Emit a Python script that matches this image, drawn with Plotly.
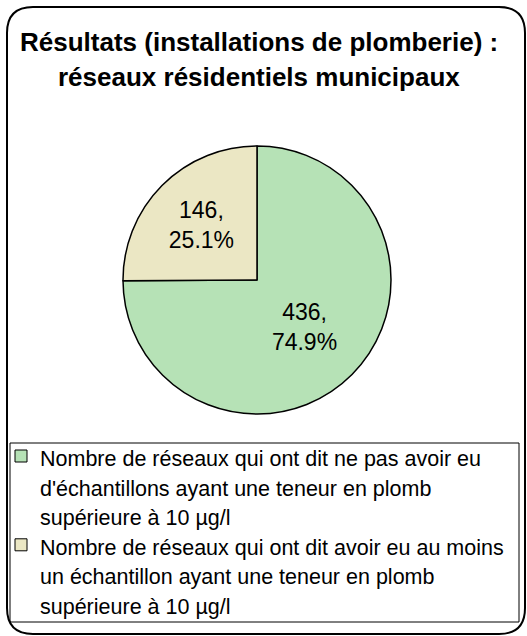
import plotly.graph_objects as go

W, H = 527, 636

categories = [
    "Nombre de réseaux qui ont dit ne pas avoir eu d'échantillons ayant une teneur en plomb supérieure à 10 µg/l",
    "Nombre de réseaux qui ont dit avoir eu au moins un échantillon ayant une teneur en plomb supérieure à 10 µg/l",
]
legend_lines = [
    ["Nombre de réseaux qui ont dit ne pas avoir eu",
     "d'échantillons ayant une teneur en plomb",
     "supérieure à 10 µg/l"],
    ["Nombre de réseaux qui ont dit avoir eu au moins",
     "un échantillon ayant une teneur en plomb",
     "supérieure à 10 µg/l"],
]
values = [436, 146]
colors = ["#b6e2b6", "#ebe7c4"]
title_lines = ["Résultats (installations de plomberie) :",
               "réseaux résidentiels municipaux"]

FONT = "Liberation Sans, Arial, sans-serif"


def px(x):
    return x / W


def py(y):
    return 1 - y / H


fig = go.Figure()
fig.add_trace(go.Pie(
    labels=categories,
    values=values,
    sort=False,
    direction="clockwise",
    rotation=0,
    marker=dict(colors=colors, line=dict(color="black", width=1.5)),
    texttemplate="%{value},<br>%{percent:.1%}",
    textposition="inside",
    insidetextorientation="horizontal",
    textfont=dict(family=FONT, size=23, color="black"),
    domain=dict(x=[px(123), px(391)], y=[py(414), py(146)]),
    showlegend=False,
    hoverinfo="label+value+percent",
))

shapes = []
# outer rounded border
x0, y0, x1, y1, r = 7, 7, 525, 634, 26
path = (f"M {px(x0+r)},{py(y0)} L {px(x1-r)},{py(y0)} "
        f"Q {px(x1)},{py(y0)} {px(x1)},{py(y0+r)} "
        f"L {px(x1)},{py(y1-r)} Q {px(x1)},{py(y1)} {px(x1-r)},{py(y1)} "
        f"L {px(x0+r)},{py(y1)} Q {px(x0)},{py(y1)} {px(x0)},{py(y1-r)} "
        f"L {px(x0)},{py(y0+r)} Q {px(x0)},{py(y0)} {px(x0+r)},{py(y0)} Z")
shapes.append(dict(type="path", xref="paper", yref="paper", path=path,
                   line=dict(color="black", width=2), fillcolor="rgba(0,0,0,0)"))
# legend box
shapes.append(dict(type="rect", xref="paper", yref="paper",
                   x0=px(10), x1=px(519), y0=py(622), y1=py(443),
                   line=dict(color="black", width=1), fillcolor="white", layer="below"))

annotations = []
for i, t in enumerate(title_lines):
    annotations.append(dict(text=f"<b>{t}</b>", x=px(259), y=py(42 + 35 * i),
                            xref="paper", yref="paper", showarrow=False,
                            xanchor="center", yanchor="middle",
                            font=dict(family=FONT, size=26, color="black")))

line_h = 29.6
start_y = 459
row = 0
for k, lines in enumerate(legend_lines):
    yc = start_y + row * line_h
    shapes.append(dict(type="rect", xref="paper", yref="paper",
                       x0=px(15), x1=px(27), y0=py(yc + 3), y1=py(yc - 9),
                       line=dict(color="black", width=1), fillcolor=colors[k]))
    for ln in lines:
        yc = start_y + row * line_h
        annotations.append(dict(text=ln, x=px(38), y=py(yc), xref="paper", yref="paper",
                                showarrow=False, xanchor="left", yanchor="middle",
                                font=dict(family=FONT, size=21.5, color="black")))
        row += 1

fig.update_layout(
    width=W, height=H,
    margin=dict(l=0, r=0, t=0, b=0),
    paper_bgcolor="white",
    plot_bgcolor="white",
    shapes=shapes,
    annotations=annotations,
)

fig.write_html("out.html", config={"displayModeBar": False},
               post_script="document.body.style.margin='0';document.body.style.padding='0';")
